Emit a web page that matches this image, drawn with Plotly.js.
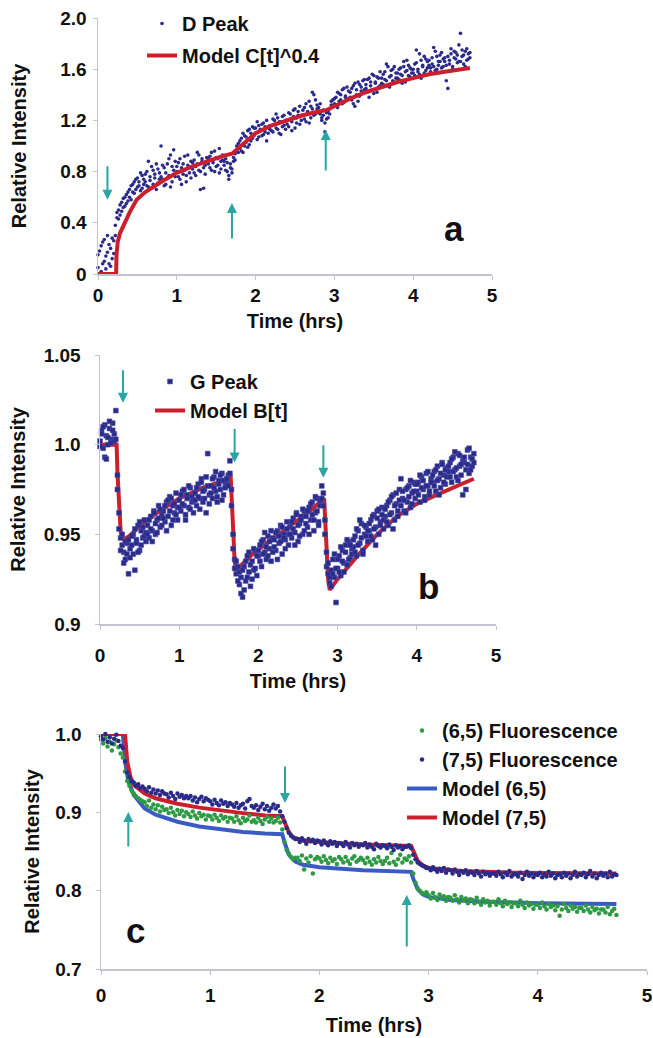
<!DOCTYPE html>
<html>
<head>
<meta charset="utf-8">
<script src="https://cdn.plot.ly/plotly-3.0.1.min.js"></script>
<style>html,body{margin:0;padding:0;background:#fff;}#chart{width:653px;height:1038px;}</style>
</head>
<body>
<div id="chart"></div>
<script>
// ---------------- DATA ----------------
const timeHrs = [
0.00,0.02,0.04,0.06,0.08,0.10,0.12,0.14,0.16,0.18,
0.20,0.22,0.24,0.26,0.28,0.30,0.32,0.34,0.36,0.38,
0.40,0.42,0.44,0.46,0.48,0.50,0.52,0.54,0.56,0.58,
0.60,0.62,0.64,0.66,0.68,0.70,0.72,0.74,0.76,0.78,
0.80,0.82,0.84,0.86,0.88,0.90,0.92,0.94,0.96,0.98,
1.00,1.02,1.04,1.06,1.08,1.10,1.12,1.14,1.16,1.18,
1.20,1.22,1.24,1.26,1.28,1.30,1.32,1.34,1.36,1.38,
1.40,1.42,1.44,1.46,1.48,1.50,1.52,1.54,1.56,1.58,
1.60,1.62,1.64,1.66,1.68,1.70,1.72,1.74,1.76,1.78,
1.80,1.82,1.84,1.86,1.88,1.90,1.92,1.94,1.96,1.98,
2.00,2.02,2.04,2.06,2.08,2.10,2.12,2.14,2.16,2.18,
2.20,2.22,2.24,2.26,2.28,2.30,2.32,2.34,2.36,2.38,
2.40,2.42,2.44,2.46,2.48,2.50,2.52,2.54,2.56,2.58,
2.60,2.62,2.64,2.66,2.68,2.70,2.72,2.74,2.76,2.78,
2.80,2.82,2.84,2.86,2.88,2.90,2.92,2.94,2.96,2.98,
3.00,3.02,3.04,3.06,3.08,3.10,3.12,3.14,3.16,3.18,
3.20,3.22,3.24,3.26,3.28,3.30,3.32,3.34,3.36,3.38,
3.40,3.42,3.44,3.46,3.48,3.50,3.52,3.54,3.56,3.58,
3.60,3.62,3.64,3.66,3.68,3.70,3.72,3.74,3.76,3.78,
3.80,3.82,3.84,3.86,3.88,3.90,3.92,3.94,3.96,3.98,
4.00,4.02,4.04,4.06,4.08,4.10,4.12,4.14,4.16,4.18,
4.20,4.22,4.24,4.26,4.28,4.30,4.32,4.34,4.36,4.38,
4.40,4.42,4.44,4.46,4.48,4.50,4.52,4.54,4.56,4.58,
4.60,4.62,4.64,4.66,4.68,4.70,4.72];

// Panel a: D peak (two readings per time)
const dPeakA = [
0.05,0.18,0.02,0.25,0.10,0.14,0.30,0.08,0.20,0.12,
0.16,0.38,0.44,0.50,0.46,0.56,0.52,0.60,0.55,0.64,
0.66,0.58,0.70,0.63,0.74,0.68,0.72,0.65,0.77,0.70,
0.72,0.80,0.68,0.76,0.84,0.70,0.78,0.66,0.82,0.74,
1.00,0.74,0.83,0.70,0.86,0.77,0.93,0.72,0.81,0.88,
0.80,0.87,0.74,0.83,0.78,0.92,0.72,0.85,0.79,0.88,
0.82,0.89,0.77,0.86,0.93,0.80,0.88,0.67,0.85,0.91,
0.86,0.92,0.81,0.89,0.96,0.84,0.90,0.79,0.88,0.93,
0.85,0.90,0.80,0.77,0.86,0.82,0.88,0.94,0.96,1.02,
0.98,1.06,0.95,1.08,1.03,1.12,1.01,1.10,1.06,1.14,
1.10,1.05,1.16,1.12,1.08,1.18,1.11,1.04,1.15,1.13,
1.16,1.11,1.20,1.14,1.22,1.10,1.19,1.15,1.24,1.13,
1.20,1.15,1.25,1.19,1.28,1.14,1.22,1.27,1.17,1.24,
1.24,1.30,1.19,1.27,1.35,1.22,1.29,1.40,1.25,1.32,
1.30,1.25,1.22,1.28,1.18,1.26,1.22,1.29,1.32,1.36,
1.33,1.38,1.30,1.41,1.36,1.44,1.34,1.39,1.46,1.37,
1.42,1.36,1.47,1.31,1.44,1.50,1.39,1.46,1.41,1.52,
1.48,1.43,1.53,1.47,1.56,1.41,1.50,1.54,1.46,1.58,
1.53,1.48,1.58,1.51,1.62,1.46,1.55,1.60,1.50,1.57,
1.57,1.52,1.61,1.55,1.66,1.50,1.59,1.63,1.54,1.60,
1.60,1.55,1.65,1.58,1.72,1.53,1.63,1.57,1.68,1.61,
1.63,1.58,1.69,1.62,1.74,1.60,1.66,1.71,1.61,1.68,
1.66,1.51,1.70,1.64,1.76,1.62,1.69,1.73,1.65,1.79,
1.88,1.70,1.64,1.74,1.67,1.72,1.69];
const dPeakB = [
0.15,0.00,0.22,0.08,0.27,0.04,0.17,0.23,0.06,0.28,
0.26,0.30,0.48,0.43,0.54,0.49,0.59,0.53,0.62,0.57,
0.60,0.69,0.64,0.72,0.66,0.75,0.69,0.79,0.67,0.74,
0.78,0.69,0.88,0.73,0.67,0.81,0.75,0.86,0.71,0.79,
0.76,0.85,0.69,0.79,0.75,0.90,0.68,0.84,0.97,0.76,
0.84,0.76,0.90,0.70,0.86,0.81,0.77,0.93,0.83,0.75,
0.87,0.79,0.84,0.95,0.81,0.66,0.90,0.83,0.78,0.88,
0.90,0.83,0.95,0.87,0.80,0.91,0.85,0.98,0.82,0.89,
0.88,0.81,0.87,0.74,0.83,0.79,0.91,0.89,1.00,0.95,
1.04,0.96,1.10,1.00,1.07,0.99,1.13,1.04,1.15,1.08,
1.14,1.19,1.07,1.13,1.17,1.09,1.15,1.20,1.10,1.16,
1.12,1.21,1.17,1.25,1.13,1.19,1.09,1.23,1.16,1.20,
1.17,1.26,1.21,1.12,1.23,1.29,1.18,1.24,1.31,1.20,
1.28,1.21,1.33,1.26,1.18,1.31,1.42,1.24,1.36,1.29,
1.26,1.33,1.20,1.24,1.11,1.21,1.27,1.25,1.35,1.31,
1.37,1.32,1.42,1.35,1.40,1.33,1.45,1.38,1.36,1.43,
1.38,1.45,1.33,1.49,1.40,1.35,1.48,1.43,1.51,1.44,
1.45,1.52,1.38,1.50,1.44,1.55,1.49,1.42,1.53,1.47,
1.49,1.56,1.52,1.64,1.47,1.54,1.59,1.51,1.62,1.53,
1.53,1.60,1.56,1.49,1.62,1.58,1.67,1.55,1.61,1.57,
1.57,1.64,1.75,1.60,1.56,1.67,1.62,1.70,1.59,1.66,
1.67,1.61,1.64,1.77,1.59,1.70,1.63,1.66,1.73,1.62,
1.69,1.63,1.45,1.67,1.72,1.60,1.74,1.68,1.71,1.66,
1.66,1.75,1.71,1.62,1.76,1.68,1.73];
const modelCTime  = [0, 0.23, 0.235, 0.25, 0.28, 0.32, 0.36, 0.40, 0.49, 0.60, 0.83, 1.00, 1.20, 1.40, 1.60, 1.70, 1.80, 1.90, 2.00, 2.20, 2.40, 2.60, 2.80, 2.90, 3.00, 3.20, 3.40, 3.60, 3.80, 4.00, 4.20, 4.40, 4.60, 4.72];
const modelCValue = [0, 0, 0.15, 0.25, 0.32, 0.38, 0.44, 0.48, 0.58, 0.64, 0.73, 0.79, 0.84, 0.885, 0.925, 0.94, 0.99, 1.05, 1.10, 1.16, 1.20, 1.24, 1.27, 1.28, 1.31, 1.37, 1.42, 1.46, 1.50, 1.53, 1.56, 1.58, 1.60, 1.61];

// Panel b: G peak (two readings per time)
const gPeakA = [
1.002,1.008,0.998,1.011,1.005,1.000,1.009,1.003,1.012,1.006,
1.019,0.983,0.962,0.948,0.944,0.940,0.936,0.945,0.928,0.942,
0.944,0.950,0.930,0.947,0.955,0.941,0.952,0.948,0.958,0.946,
0.955,0.948,0.960,0.952,0.963,0.950,0.958,0.966,0.954,0.961,
0.963,0.957,0.968,0.960,0.971,0.955,0.966,0.962,0.973,0.958,
0.969,0.963,0.974,0.966,0.958,0.972,0.965,0.976,0.968,0.962,
0.973,0.966,0.978,0.970,0.981,0.968,0.975,0.962,0.977,0.972,
0.977,0.970,0.982,0.974,0.968,0.980,0.975,0.984,0.972,0.979,
0.978,0.983,0.991,0.975,0.950,0.936,0.928,0.932,0.922,0.926,
0.915,0.932,0.924,0.938,0.929,0.921,0.935,0.930,0.941,0.927,
0.938,0.944,0.932,0.947,0.940,0.936,0.949,0.942,0.935,0.948,
0.947,0.941,0.952,0.945,0.955,0.939,0.950,0.947,0.957,0.944,
0.954,0.948,0.959,0.951,0.962,0.946,0.956,0.960,0.950,0.963,
0.960,0.954,0.965,0.958,0.968,0.952,0.962,0.970,0.957,0.966,
0.977,0.966,0.958,0.940,0.928,0.923,0.930,0.936,0.926,0.912,
0.931,0.938,0.927,0.941,0.934,0.944,0.933,0.946,0.937,0.942,
0.943,0.949,0.938,0.952,0.945,0.956,0.941,0.950,0.954,0.946,
0.952,0.958,0.947,0.961,0.954,0.963,0.950,0.957,0.965,0.953,
0.960,0.966,0.955,0.969,0.962,0.972,0.958,0.967,0.963,0.975,
0.981,0.970,0.963,0.975,0.968,0.977,0.965,0.973,0.979,0.970,
0.974,0.979,0.968,0.982,0.975,0.971,0.984,0.977,0.972,0.981,
0.979,0.985,0.974,0.988,0.981,0.976,0.990,0.983,0.978,0.987,
0.985,0.990,0.979,0.993,0.986,0.982,0.995,0.988,0.983,0.991,
0.990,0.986,0.997,0.984,0.993,0.988,0.995];
const gPeakB = [
0.999,1.006,1.010,0.993,0.992,1.004,1.013,1.001,1.008,1.002,
1.003,0.975,0.953,0.941,0.950,0.934,0.946,0.939,0.947,0.937,
0.949,0.939,0.953,0.945,0.940,0.957,0.944,0.954,0.949,0.951,
0.950,0.958,0.953,0.946,0.962,0.956,0.951,0.959,0.964,0.955,
0.959,0.966,0.952,0.969,0.963,0.970,0.958,0.967,0.961,0.965,
0.965,0.972,0.967,0.975,0.961,0.970,0.977,0.964,0.971,0.969,
0.969,0.976,0.971,0.964,0.979,0.974,0.970,0.982,0.995,0.967,
0.973,0.981,0.976,0.985,0.971,0.978,0.983,0.969,0.980,0.976,
0.981,0.977,0.984,0.966,0.942,0.931,0.935,0.924,0.929,0.917,
0.930,0.919,0.935,0.926,0.940,0.933,0.925,0.942,0.931,0.938,
0.941,0.935,0.946,0.939,0.951,0.943,0.938,0.946,0.952,0.940,
0.943,0.951,0.936,0.949,0.946,0.954,0.948,0.942,0.953,0.950,
0.950,0.957,0.953,0.944,0.961,0.955,0.949,0.958,0.964,0.952,
0.956,0.963,0.950,0.967,0.961,0.958,0.971,0.963,0.955,0.969,
0.970,0.973,0.950,0.932,0.934,0.926,0.921,0.928,0.939,0.931,
0.936,0.929,0.943,0.935,0.929,0.940,0.947,0.936,0.944,0.939,
0.947,0.940,0.953,0.944,0.958,0.948,0.939,0.955,0.949,0.952,
0.956,0.949,0.960,0.953,0.944,0.959,0.964,0.955,0.961,0.958,
0.964,0.957,0.968,0.961,0.971,0.953,0.966,0.973,0.960,0.969,
0.966,0.974,0.969,0.962,0.976,0.971,0.980,0.967,0.974,0.978,
0.978,0.972,0.983,0.976,0.980,0.969,0.977,0.985,0.974,0.979,
0.983,0.977,0.986,0.980,0.972,0.984,0.989,0.979,0.986,0.982,
0.988,0.982,0.992,0.985,0.996,0.987,0.980,0.994,0.989,0.972,
0.993,0.975,0.989,0.998,0.986,0.992,0.990];
const modelBTime  = [0, 0.21, 0.22, 0.24, 0.26, 0.28, 0.30, 0.40, 0.50, 0.75, 1.00, 1.30, 1.50, 1.65, 1.66, 1.68, 1.70, 1.72, 1.95, 2.20, 2.45, 2.65, 2.83, 2.84, 2.86, 2.88, 2.90, 3.00, 3.25, 3.50, 3.75, 4.00, 4.25, 4.50, 4.72];
const modelBValue = [1.0, 1.0, 0.985, 0.965, 0.952, 0.948, 0.947, 0.950, 0.955, 0.963, 0.970, 0.976, 0.979, 0.982, 0.970, 0.950, 0.935, 0.930, 0.940, 0.948, 0.956, 0.963, 0.970, 0.960, 0.940, 0.925, 0.919, 0.925, 0.938, 0.950, 0.960, 0.967, 0.972, 0.977, 0.981];

// Panel c: fluorescence
const fluor65 = [
0.993,0.988,0.995,0.984,0.990,0.979,0.987,0.992,0.983,0.975,
0.970,0.952,0.940,0.934,0.928,0.924,0.921,0.918,0.916,0.914,
0.913,0.908,0.915,0.906,0.910,0.904,0.909,0.901,0.907,0.903,
0.904,0.899,0.906,0.900,0.896,0.903,0.898,0.902,0.895,0.900,
0.898,0.894,0.901,0.896,0.892,0.899,0.895,0.897,0.891,0.896,
0.895,0.891,0.897,0.893,0.889,0.896,0.892,0.894,0.888,0.893,
0.892,0.888,0.895,0.890,0.886,0.893,0.889,0.891,0.896,0.888,
0.890,0.887,0.893,0.889,0.885,0.891,0.894,0.888,0.892,0.887,
0.889,0.893,0.887,0.878,0.862,0.852,0.847,0.843,0.840,0.842,
0.842,0.838,0.845,0.827,0.841,0.836,0.844,0.822,0.840,0.843,
0.841,0.837,0.844,0.839,0.835,0.842,0.838,0.840,0.834,0.843,
0.840,0.836,0.843,0.838,0.834,0.841,0.844,0.837,0.839,0.842,
0.839,0.835,0.842,0.837,0.833,0.840,0.836,0.843,0.838,0.834,
0.838,0.842,0.835,0.848,0.837,0.833,0.840,0.846,0.836,0.841,
0.839,0.844,0.836,0.822,0.810,0.803,0.800,0.797,0.796,0.798,
0.794,0.790,0.797,0.792,0.788,0.795,0.791,0.793,0.787,0.792,
0.791,0.787,0.794,0.789,0.785,0.792,0.788,0.790,0.784,0.789,
0.788,0.784,0.791,0.786,0.782,0.789,0.785,0.787,0.781,0.786,
0.786,0.782,0.789,0.784,0.780,0.787,0.783,0.785,0.779,0.784,
0.784,0.780,0.787,0.782,0.778,0.785,0.781,0.783,0.777,0.782,
0.782,0.778,0.785,0.780,0.776,0.783,0.779,0.781,0.775,0.780,
0.768,0.776,0.783,0.778,0.774,0.781,0.777,0.779,0.773,0.778,
0.778,0.774,0.781,0.776,0.772,0.779,0.775,0.777,0.771,0.776,
0.776,0.772,0.779,0.770,0.774,0.777,0.769];
const fluor75 = [
0.997,0.993,1.000,0.990,0.996,0.988,0.994,0.999,0.991,0.985,
0.982,0.965,0.951,0.945,0.940,0.938,0.934,0.936,0.931,0.933,
0.930,0.927,0.932,0.925,0.929,0.924,0.928,0.922,0.927,0.924,
0.923,0.919,0.925,0.921,0.917,0.924,0.920,0.922,0.918,0.921,
0.918,0.921,0.915,0.919,0.913,0.917,0.920,0.914,0.918,0.916,
0.914,0.910,0.916,0.912,0.909,0.915,0.911,0.913,0.908,0.912,
0.910,0.907,0.912,0.906,0.909,0.911,0.905,0.914,0.917,0.908,
0.906,0.909,0.903,0.907,0.911,0.904,0.908,0.902,0.906,0.910,
0.905,0.908,0.901,0.895,0.888,0.880,0.874,0.870,0.868,0.866,
0.866,0.862,0.867,0.864,0.860,0.866,0.863,0.865,0.861,0.864,
0.863,0.859,0.864,0.861,0.858,0.863,0.860,0.862,0.857,0.861,
0.860,0.857,0.862,0.859,0.855,0.861,0.858,0.860,0.856,0.859,
0.858,0.861,0.855,0.859,0.856,0.853,0.860,0.857,0.855,0.858,
0.857,0.854,0.859,0.856,0.852,0.858,0.855,0.857,0.853,0.856,
0.856,0.858,0.854,0.846,0.840,0.836,0.834,0.832,0.831,0.829,
0.829,0.826,0.830,0.827,0.824,0.828,0.825,0.829,0.823,0.827,
0.826,0.822,0.827,0.824,0.820,0.825,0.823,0.826,0.821,0.824,
0.823,0.820,0.825,0.822,0.818,0.824,0.821,0.823,0.819,0.822,
0.822,0.819,0.824,0.821,0.817,0.823,0.820,0.825,0.818,0.821,
0.821,0.818,0.823,0.815,0.820,0.824,0.819,0.822,0.817,0.821,
0.820,0.823,0.817,0.821,0.818,0.824,0.819,0.822,0.816,0.820,
0.821,0.817,0.823,0.819,0.822,0.816,0.820,0.824,0.818,0.821,
0.820,0.823,0.817,0.821,0.825,0.818,0.822,0.816,0.820,0.823,
0.819,0.822,0.817,0.824,0.818,0.821,0.820];
const model65Time  = [0, 0.20, 0.22, 0.25, 0.30, 0.40, 0.50, 0.70, 0.90, 1.10, 1.30, 1.50, 1.66, 1.68, 1.72, 1.78, 1.85, 2.00, 2.40, 2.84, 2.86, 2.90, 2.95, 3.00, 3.20, 3.50, 4.00, 4.72];
const model65Value = [1.0, 1.0, 0.965, 0.940, 0.922, 0.905, 0.897, 0.888, 0.882, 0.878, 0.875, 0.873, 0.872, 0.862, 0.846, 0.837, 0.833, 0.830, 0.826, 0.824, 0.815, 0.802, 0.795, 0.792, 0.788, 0.786, 0.784, 0.783];
const model75Time  = [0, 0.22, 0.24, 0.27, 0.30, 0.40, 0.50, 0.70, 0.90, 1.10, 1.30, 1.50, 1.66, 1.68, 1.72, 1.76, 1.85, 2.00, 2.40, 2.84, 2.86, 2.90, 2.95, 3.00, 3.30, 3.80, 4.72];
const model75Value = [1.0, 1.0, 0.965, 0.945, 0.935, 0.924, 0.918, 0.911, 0.906, 0.902, 0.899, 0.896, 0.895, 0.888, 0.875, 0.868, 0.864, 0.862, 0.859, 0.857, 0.850, 0.838, 0.832, 0.829, 0.825, 0.823, 0.822];

// Ticks
const xTickVals = [0, 1, 2, 3, 4, 5];
const xTickText = ['0', '1', '2', '3', '4', '5'];
const yTickValsA = [0, 0.4, 0.8, 1.2, 1.6, 2.0];
const yTickTextA = ['0', '0.4', '0.8', '1.2', '1.6', '2.0'];
const yTickValsB = [0.9, 0.95, 1.0, 1.05];
const yTickTextB = ['0.9', '0.95', '1.0', '1.05'];
const yTickValsC = [0.7, 0.8, 0.9, 1.0];
const yTickTextC = ['0.7', '0.8', '0.9', '1.0'];

// Arrow markers (tip time, tip value, direction)
const arrowTimeA = [0.12, 1.70, 2.89];
const arrowValueA = [0.58, 0.555, 1.125];
const arrowDirA = ['down', 'up', 'up'];
const arrowTimeB = [0.29, 1.70, 2.82];
const arrowValueB = [1.0234, 0.990, 0.9816];
const arrowDirB = ['down', 'down', 'down'];
const arrowTimeC = [0.25, 1.685, 2.80];
const arrowValueC = [0.9005, 0.912, 0.7945];
const arrowDirC = ['up', 'down', 'up'];

// ---------------- STYLE / LAYOUT ----------------
const W = 653, H = 1038;
const FONT = 'Liberation Sans, Arial, Helvetica, sans-serif';
const fx = p => p / W;
const fy = p => 1 - p / H;
const NAVY = '#2a2a88', RED = '#cc1f2d', GREEN = '#2e9a44', BLUE = '#3a5cc2', TEAL = '#2aa5a3';
const AXC = '#c4c4d0';

function axis(extra) {
  return Object.assign({
    showline: true, linecolor: AXC, linewidth: 1.5,
    ticks: 'outside', ticklen: 4, tickwidth: 1, tickcolor: AXC,
    showgrid: false, zeroline: false, fixedrange: true,
    tickfont: {family: FONT, size: 19, color: '#111', weight: 700}
  }, extra);
}
function ttl(text, standoff) {
  return {text: text, standoff: standoff, font: {family: FONT, size: 20, color: '#111', weight: 700}};
}

const both = arr => arr.concat(arr);

const traces = [
  {x: both(timeHrs), y: dPeakA.concat(dPeakB), type: 'scatter', mode: 'markers', name: 'D Peak',
   marker: {color: NAVY, size: 3.6}, xaxis: 'x', yaxis: 'y', legend: 'legend', legendgroup: 'a1', legendrank: 1, cliponaxis: false},
  {x: modelCTime, y: modelCValue, type: 'scatter', mode: 'lines', name: 'Model C[t]^0.4',
   line: {color: RED, width: 4}, xaxis: 'x', yaxis: 'y', legend: 'legend', legendgroup: 'a2', legendrank: 2, cliponaxis: false},

  {x: modelBTime, y: modelBValue, type: 'scatter', mode: 'lines', name: 'Model B[t]',
   line: {color: RED, width: 4}, xaxis: 'x2', yaxis: 'y2', legend: 'legend2', legendgroup: 'b2', legendrank: 2, cliponaxis: false},
  {x: both(timeHrs), y: gPeakA.concat(gPeakB), type: 'scatter', mode: 'markers', name: 'G Peak',
   marker: {color: NAVY, size: 4.8, symbol: 'square', line: {color: '#4a4aa8', width: 0.6}}, xaxis: 'x2', yaxis: 'y2', legend: 'legend2', legendgroup: 'b1', legendrank: 1, cliponaxis: false},

  {x: model65Time, y: model65Value, type: 'scatter', mode: 'lines', name: 'Model (6,5)',
   line: {color: BLUE, width: 4}, xaxis: 'x3', yaxis: 'y3', legend: 'legend3', legendgroup: 'c3', legendrank: 3, cliponaxis: false},
  {x: model75Time, y: model75Value, type: 'scatter', mode: 'lines', name: 'Model (7,5)',
   line: {color: RED, width: 4}, xaxis: 'x3', yaxis: 'y3', legend: 'legend3', legendgroup: 'c4', legendrank: 4, cliponaxis: false},
  {x: timeHrs, y: fluor65, type: 'scatter', mode: 'markers', name: '(6,5) Fluorescence',
   marker: {color: GREEN, size: 4.5}, xaxis: 'x3', yaxis: 'y3', legend: 'legend3', legendgroup: 'c1', legendrank: 1, cliponaxis: false},
  {x: timeHrs, y: fluor75, type: 'scatter', mode: 'markers', name: '(7,5) Fluorescence',
   marker: {color: NAVY, size: 4.5}, xaxis: 'x3', yaxis: 'y3', legend: 'legend3', legendgroup: 'c2', legendrank: 2, cliponaxis: false}
];

function arrows(times, values, dirs, xr, yr, lens) {
  return times.map((t, i) => ({
    x: t, y: values[i], xref: xr, yref: yr, text: '', showarrow: true,
    ax: 0, ay: dirs[i] === 'down' ? -lens[i] : lens[i],
    arrowhead: 2, arrowsize: 1, arrowwidth: 2, arrowcolor: TEAL, standoff: 0
  }));
}

const letterFont = {family: FONT, size: 35, color: '#111', weight: 700};
const annotations = [].concat(
  arrows(arrowTimeA, arrowValueA, arrowDirA, 'x', 'y', [35, 37, 42]),
  arrows(arrowTimeB, arrowValueB, arrowDirB, 'x2', 'y2', [34, 35, 34]),
  arrows(arrowTimeC, arrowValueC, arrowDirC, 'x3', 'y3', [36, 38, 53]),
  [
    {text: 'a', xref: 'paper', yref: 'paper', x: fx(454), y: fy(228), showarrow: false, font: letterFont, xanchor: 'center', yanchor: 'middle'},
    {text: 'b', xref: 'paper', yref: 'paper', x: fx(428), y: fy(586), showarrow: false, font: letterFont, xanchor: 'center', yanchor: 'middle'},
    {text: 'c', xref: 'paper', yref: 'paper', x: fx(135), y: fy(930), showarrow: false, font: letterFont, xanchor: 'center', yanchor: 'middle'}
  ]
);

function leg(xp, yp, gap) {
  return {x: fx(xp), y: fy(yp), xanchor: 'left', yanchor: 'top', bgcolor: 'rgba(0,0,0,0)',
          font: {family: FONT, size: 20, color: '#111', weight: 700},
          traceorder: 'grouped', tracegroupgap: gap, itemwidth: 30};
}

const layout = {
  width: W, height: H,
  margin: {l: 0, r: 0, t: 0, b: 0},
  paper_bgcolor: '#fff', plot_bgcolor: '#fff',
  showlegend: true,
  xaxis:  axis({domain: [fx(98), fx(492)], range: [0, 5], tickvals: xTickVals, ticktext: xTickText, anchor: 'y', title: ttl('Time (hrs)', 8), ticklabelstandoff: 0}),
  yaxis:  axis({domain: [fy(274), fy(18)], range: [0, 2], tickvals: yTickValsA, ticktext: yTickTextA, anchor: 'x', title: ttl('Relative Intensity', 28), ticklabelstandoff: 2}),
  xaxis2: axis({domain: [fx(100), fx(496)], range: [0, 5], tickvals: xTickVals, ticktext: xTickText, anchor: 'y2', title: ttl('Time (hrs)', 8), ticklabelstandoff: 10}),
  yaxis2: axis({domain: [fy(624), fy(355)], range: [0.9, 1.05], tickvals: yTickValsB, ticktext: yTickTextB, anchor: 'x2', title: ttl('Relative Intensity', 12), ticklabelstandoff: 10}),
  xaxis3: axis({domain: [fx(101), fx(647)], range: [0, 5], tickvals: xTickVals, ticktext: xTickText, anchor: 'y3', title: ttl('Time (hrs)', 12), ticklabelstandoff: 5}),
  yaxis3: axis({domain: [fy(969), fy(734)], range: [0.7, 1.0], tickvals: yTickValsC, ticktext: yTickTextC, anchor: 'x3', title: ttl('Relative Intensity', 10), ticklabelstandoff: 10}),
  legend:  leg(142, 4, 3),
  legend2: leg(150, 362, 0),
  legend3: leg(402, 711, 0),
  annotations: annotations
};

Plotly.newPlot('chart', traces, layout, {displayModeBar: false, staticPlot: true});
</script>
</body>
</html>
